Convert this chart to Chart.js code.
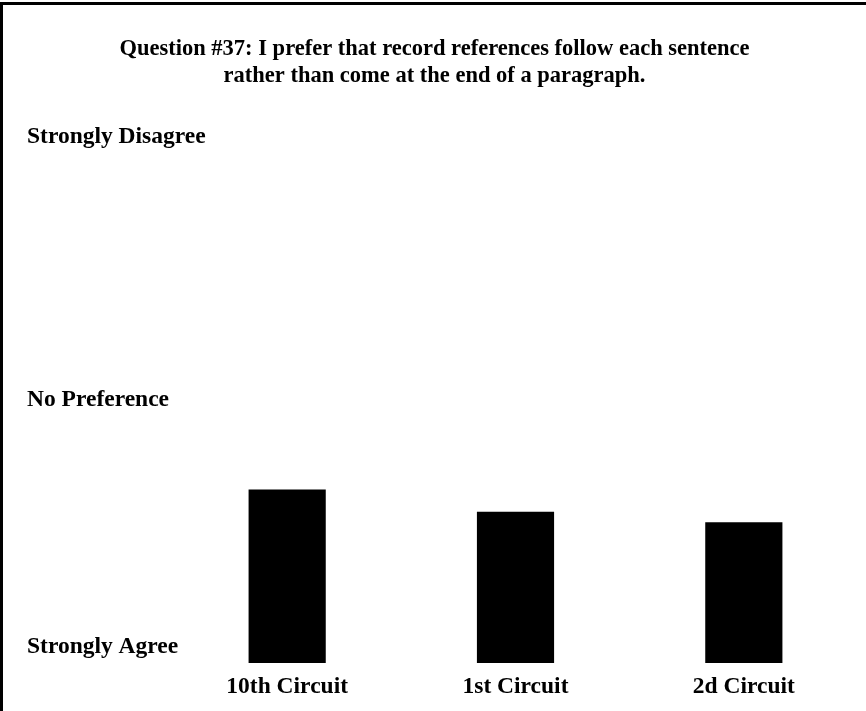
<!DOCTYPE html>
<html>
<head>
<meta charset="utf-8">
<script src="https://cdn.jsdelivr.net/npm/chart.js@4.4.1/dist/chart.umd.min.js"></script>
<style>
    html, body { margin: 0; padding: 0; background: #fff; }
    .chart-panel {
        box-sizing: border-box;
        width: 866px;
        height: 709px;
        margin-top: 2px;
        border-left: 3px solid #000;
        border-top: 3px solid #000;
        position: relative;
    }
</style>
</head>
<body>
<div class="chart-panel">
    <canvas id="chart" width="863" height="706"></canvas>
</div>
<script>
    const categories = ['10th Circuit', '1st Circuit', '2d Circuit'];
    const responses = [2.32, 2.15, 2.07];
    const tickValues = [1, 3, 5];
    const tickLabels = [['Strongly Agree', ''], 'No Preference', 'Strongly Disagree'];
    const titleLines = [
        'Question #37: I prefer that record references follow each sentence',
        'rather than come at the end of a paragraph.'
    ];

    const serif = '"Liberation Serif", "Times New Roman", serif';
    Chart.defaults.color = '#000';

    const data = {
        labels: categories,
        datasets: [{
            label: 'Response',
            data: responses,
            backgroundColor: '#000',
            borderWidth: 0,
            barPercentage: 1,
            categoryPercentage: 0.338
        }]
    };

    const config = {
        type: 'bar',
        data: data,
        options: {
            responsive: false,
            animation: false,
            layout: {
                padding: { left: 8, right: 8, top: 0, bottom: 0 }
            },
            plugins: {
                legend: { display: false },
                tooltip: { enabled: false },
                title: {
                    display: true,
                    text: titleLines,
                    color: '#000',
                    font: { family: serif, size: 22.5, weight: 'bold', lineHeight: 1.2 },
                    padding: { top: 31, bottom: 47 }
                }
            },
            scales: {
                x: {
                    grid: { display: false, drawTicks: false },
                    border: { display: false },
                    ticks: {
                        color: '#000',
                        padding: 10,
                        font: { family: serif, size: 23.5, weight: 'bold', lineHeight: 1.2 }
                    },
                    afterFit: (scale) => { scale.height = 48; }
                },
                y: {
                    min: 1,
                    max: 5,
                    grid: { display: false, drawTicks: false },
                    border: { display: false },
                    afterBuildTicks: (scale) => {
                        scale.ticks = tickValues.map(v => ({ value: v }));
                    },
                    // mirrored so the long labels are not clipped to the narrow axis box
                    ticks: {
                        color: '#000',
                        mirror: true,
                        crossAlign: 'near',
                        padding: -146,
                        font: { family: serif, size: 23.5, weight: 'bold', lineHeight: 1.36 },
                        callback: (value) => {
                            const i = tickValues.indexOf(value);
                            return i >= 0 ? tickLabels[i] : '';
                        }
                    },
                    afterFit: (scale) => { scale.width = 162; }
                }
            }
        }
    };

    const chart = new Chart(document.getElementById('chart'), config);
</script>
</body>
</html>
